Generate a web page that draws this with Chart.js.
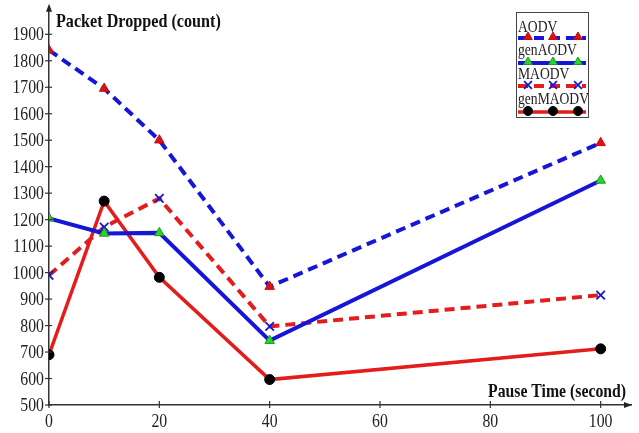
<!DOCTYPE html>
<html>
<head>
<meta charset="utf-8">
<script src="https://cdn.jsdelivr.net/npm/chart.js@4.4.0/dist/chart.umd.min.js"></script>
<style>
html,body{margin:0;padding:0;background:#fff;}
#wrap{width:639px;height:433px;}
</style>
</head>
<body>
<div id="wrap"><canvas id="c" width="639" height="433"></canvas></div>
<script>
const pauseTimes = [0, 10, 20, 40, 100];
const aodv     = [1840, 1695, 1500, 947, 1490];
const genAodv  = [1205, 1148, 1150, 743, 1348];
const maodv    = [990, 1172, 1280, 797, 915];
const genMaodv = [690, 1270, 982, 596, 712];
const seriesNames = ['AODV', 'genAODV', 'MAODV', 'genMAODV'];
const xTickValues = [0, 20, 40, 60, 80, 100];
const yTickValues = [500, 600, 700, 800, 900, 1000, 1100, 1200, 1300, 1400, 1500, 1600, 1700, 1800, 1900];
const yTitle = 'Packet Dropped (count)';
const xTitle = 'Pause Time (second)';

const BLUE = '#1616d8';
const RED = '#e41c1c';
const SERIF = '"Liberation Serif","Times New Roman",serif';
const SQUEEZE = 0.83;

function pts(vals){ return pauseTimes.map((x,i)=>({x:x,y:vals[i]})); }

const datasets = [
  {label: seriesNames[0], data: pts(aodv), borderColor: BLUE, borderWidth: 4, borderDash:[10,6],
   pointStyle:'triangle', pointRadius:5.5, pointBackgroundColor:'#e01010', pointBorderColor:'#c01010', pointBorderWidth:1},
  {label: seriesNames[1], data: pts(genAodv), borderColor: BLUE, borderWidth: 4,
   pointStyle:'triangle', pointRadius:5.5, pointBackgroundColor:'#2bd42b', pointBorderColor:'#1a9a1a', pointBorderWidth:1},
  {label: seriesNames[2], data: pts(maodv), borderColor: RED, borderWidth: 4, borderDash:[10,6],
   pointStyle:'crossRot', pointRadius:6, pointBackgroundColor:BLUE, pointBorderColor:BLUE, pointBorderWidth:1.8},
  {label: seriesNames[3], data: pts(genMaodv), borderColor: RED, borderWidth: 3.5,
   pointStyle:'circle', pointRadius:5, pointBackgroundColor:'#000', pointBorderColor:'#000', pointBorderWidth:1}
];
datasets.forEach(d=>{ d.fill=false; d.tension=0; d.backgroundColor=d.borderColor; });

function squeezedText(ctx, text, x, y, align){
  const w = ctx.measureText(text).width * SQUEEZE;
  let sx = x;
  if (align === 'right') sx = x - w;
  else if (align === 'center') sx = x - w/2;
  ctx.save(); ctx.translate(sx, y); ctx.scale(SQUEEZE, 1); ctx.textAlign = 'left'; ctx.fillText(text, 0, 0); ctx.restore();
}

const extras = {
  id:'extras',
  afterDraw(chart){
    const ctx = chart.ctx;
    const xs = chart.scales.x, ys = chart.scales.y;
    const ca = chart.chartArea;
    ctx.save();
    // crossing tick marks
    ctx.strokeStyle = '#333'; ctx.lineWidth = 1.2;
    xs.ticks.forEach(t=>{
      const px = xs.getPixelForValue(t.value);
      ctx.beginPath(); ctx.moveTo(px, ca.bottom+3); ctx.lineTo(px, ca.bottom-4); ctx.stroke();
    });
    ys.ticks.forEach(t=>{
      const py = ys.getPixelForValue(t.value);
      ctx.beginPath(); ctx.moveTo(ca.left-4, py); ctx.lineTo(ca.left+3, py); ctx.stroke();
    });
    // tick labels
    ctx.fillStyle = '#222';
    ctx.font = '19px ' + SERIF;
    ctx.textBaseline = 'middle';
    ys.ticks.forEach(t=>{
      squeezedText(ctx, String(t.value), ca.left - 5, ys.getPixelForValue(t.value) + 1, 'right');
    });
    xs.ticks.forEach(t=>{
      squeezedText(ctx, String(t.value), xs.getPixelForValue(t.value), ca.bottom + 17, 'center');
    });
    // arrows
    ctx.fillStyle = '#222';
    ctx.beginPath(); ctx.moveTo(ca.left, ca.top-4); ctx.lineTo(ca.left-3, ca.top+4); ctx.lineTo(ca.left+3, ca.top+4); ctx.closePath(); ctx.fill();
    ctx.beginPath(); ctx.moveTo(ca.right+1, ca.bottom); ctx.lineTo(ca.right-7, ca.bottom-3); ctx.lineTo(ca.right-7, ca.bottom+3); ctx.closePath(); ctx.fill();
    // titles
    ctx.fillStyle = '#111';
    ctx.font = 'bold 19px ' + SERIF;
    ctx.textBaseline = 'alphabetic';
    ctx.save(); ctx.translate(56, 27); ctx.scale(0.85,1); ctx.fillText(yTitle, 0, 0); ctx.restore();
    ctx.save(); ctx.translate(488, 397); ctx.scale(0.83,1); ctx.fillText(xTitle, 0, 0); ctx.restore();
    // legend
    const lx = 516, ly = 12, lw = 72, lh = 105;
    ctx.fillStyle = '#fff'; ctx.fillRect(lx, ly, lw, lh);
    ctx.strokeStyle = '#444'; ctx.lineWidth = 1; ctx.strokeRect(lx+0.5, ly+0.5, lw, lh);
    const textY = [32, 55, 79, 104];
    const lineY = [38, 63, 86, 112];
    chart.data.datasets.forEach((d, i)=>{
      ctx.fillStyle = '#222';
      ctx.font = '16px ' + SERIF;
      ctx.textBaseline = 'alphabetic';
      ctx.save(); ctx.translate(518, textY[i]); ctx.scale(0.85,1); ctx.fillText(d.label, 0, 0); ctx.restore();
      ctx.strokeStyle = d.borderColor; ctx.lineWidth = d.borderWidth;
      ctx.setLineDash(d.borderDash || []);
      ctx.beginPath(); ctx.moveTo(518, lineY[i]); ctx.lineTo(586, lineY[i]); ctx.stroke();
      ctx.setLineDash([]);
      [528, 553, 578].forEach(mx=>{
        ctx.fillStyle = d.pointBackgroundColor;
        ctx.strokeStyle = d.pointBorderColor;
        ctx.lineWidth = d.pointBorderWidth;
        Chart.helpers.drawPoint(ctx, {pointStyle:d.pointStyle, radius:d.pointRadius-0.5, rotation:0, borderWidth:d.pointBorderWidth}, mx, lineY[i]-1);
      });
    });
    ctx.restore();
  }
};

new Chart(document.getElementById('c'), {
  type:'line',
  data:{datasets: datasets},
  plugins:[extras],
  options:{
    responsive:false,
    animation:false,
    layout:{padding:{top:6, right:8, left:0, bottom:0}},
    plugins:{legend:{display:false}, tooltip:{enabled:false}},
    scales:{
      x:{type:'linear', min:0, max:105.5,
        afterBuildTicks(s){ s.ticks = xTickValues.map(v=>({value:v})); },
        ticks:{display:false},
        grid:{display:true, drawOnChartArea:false, drawTicks:false},
        border:{display:true, color:'#333', width:1.5},
        afterFit(s){ s.height = 28; }
      },
      y:{type:'linear', min:500, max:2000,
        afterBuildTicks(s){ s.ticks = yTickValues.map(v=>({value:v})); },
        ticks:{display:false},
        grid:{display:true, drawOnChartArea:false, drawTicks:false},
        border:{display:true, color:'#333', width:1.5},
        afterFit(s){ s.width = 49; }
      }
    }
  }
});
</script>
</body>
</html>
